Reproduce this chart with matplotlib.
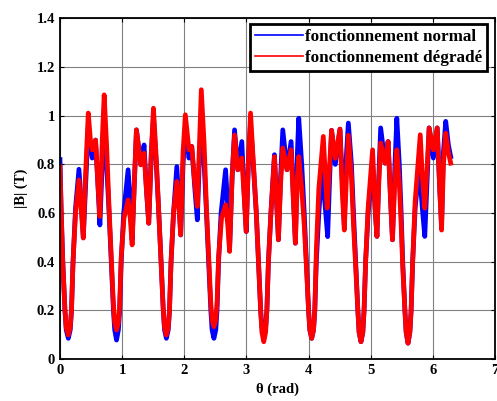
import matplotlib
matplotlib.use("Agg")
import matplotlib.pyplot as plt
from matplotlib.lines import Line2D

# |B| (T) against theta (rad)
theta_normal = [0.0, 0.02, 0.045, 0.08, 0.10, 0.134, 0.165, 0.185, 0.21, 0.25, 0.305, 0.34, 0.375, 0.41, 0.455,
                0.49, 0.519, 0.572, 0.61, 0.642, 0.68, 0.711, 0.75,
                0.79, 0.825, 0.86, 0.88, 0.91, 0.94, 0.96, 0.985, 1.025,
                1.096, 1.13, 1.161, 1.20, 1.23, 1.30, 1.353, 1.39, 1.428, 1.47, 1.504, 1.55,
                1.59, 1.627, 1.662, 1.682, 1.712, 1.742, 1.762, 1.787, 1.827,
                1.88, 1.92, 1.942, 1.98, 2.017, 2.075, 2.12, 2.17, 2.21, 2.24, 2.274, 2.32,
                2.357, 2.392, 2.427, 2.447, 2.477, 2.507, 2.527, 2.552, 2.592,
                2.665, 2.70, 2.729, 2.77, 2.809, 2.862, 2.926, 2.96, 2.997, 3.03, 3.066, 3.11,
                3.159, 3.194, 3.229, 3.249, 3.279, 3.309, 3.329, 3.354, 3.394,
                3.451, 3.49, 3.515, 3.55, 3.585, 3.653, 3.719, 3.75, 3.788, 3.82, 3.842, 3.89,
                3.93, 3.965, 4.00, 4.02, 4.05, 4.08, 4.10, 4.125, 4.165,
                4.22, 4.26, 4.307, 4.34, 4.37, 4.43, 4.505, 4.54, 4.575, 4.60, 4.64, 4.69,
                4.723, 4.758, 4.793, 4.813, 4.843, 4.873, 4.893, 4.918, 4.958,
                5.03, 5.07, 5.10, 5.13, 5.16, 5.23, 5.28, 5.32, 5.35, 5.39, 5.42, 5.46,
                5.49, 5.515, 5.55, 5.57, 5.60, 5.63, 5.65, 5.675, 5.715,
                5.78, 5.83, 5.87, 5.91, 5.94, 6.008, 6.07, 6.11, 6.14, 6.17, 6.207, 6.25, 6.287]
B_normal = [0.82, 0.60, 0.40, 0.20, 0.12, 0.085, 0.12, 0.20, 0.40, 0.62, 0.78, 0.65, 0.50, 0.70, 0.955,
            0.88, 0.826, 0.90, 0.72, 0.551, 0.80, 0.955, 0.80,
            0.60, 0.40, 0.20, 0.12, 0.078, 0.12, 0.20, 0.40, 0.60,
            0.778, 0.65, 0.49, 0.75, 0.942, 0.80, 0.88, 0.70, 0.558, 0.85, 0.995, 0.80,
            0.60, 0.40, 0.20, 0.12, 0.085, 0.12, 0.20, 0.40, 0.60,
            0.791, 0.62, 0.51, 0.80, 0.956, 0.826, 0.874, 0.70, 0.572, 0.80, 0.984, 0.80,
            0.60, 0.40, 0.20, 0.12, 0.085, 0.12, 0.20, 0.40, 0.60,
            0.778, 0.62, 0.455, 0.75, 0.942, 0.778, 0.894, 0.70, 0.524, 0.80, 0.969, 0.80,
            0.60, 0.40, 0.20, 0.13, 0.092, 0.13, 0.20, 0.40, 0.60,
            0.84, 0.62, 0.49, 0.75, 0.942, 0.778, 0.894, 0.70, 0.476, 0.85, 0.99, 0.80,
            0.60, 0.40, 0.20, 0.12, 0.085, 0.12, 0.20, 0.40, 0.60,
            0.79, 0.65, 0.503, 0.75, 0.94, 0.80, 0.945, 0.75, 0.55, 0.80, 0.97, 0.80,
            0.60, 0.40, 0.20, 0.11, 0.071, 0.11, 0.20, 0.40, 0.60,
            0.80, 0.62, 0.504, 0.75, 0.95, 0.805, 0.894, 0.65, 0.49, 0.80, 0.99, 0.80,
            0.60, 0.40, 0.20, 0.11, 0.065, 0.11, 0.20, 0.40, 0.62,
            0.791, 0.62, 0.504, 0.75, 0.95, 0.826, 0.95, 0.70, 0.55, 0.85, 0.977, 0.88, 0.832]

theta_degrade = [0.0, 0.02, 0.045, 0.08, 0.10, 0.134, 0.165, 0.185, 0.21, 0.25, 0.305, 0.34, 0.375, 0.41, 0.455,
                 0.49, 0.519, 0.572, 0.61, 0.642, 0.68, 0.711, 0.75,
                 0.79, 0.825, 0.86, 0.88, 0.91, 0.94, 0.96, 0.985, 1.03,
                 1.096, 1.13, 1.161, 1.20, 1.23, 1.30, 1.353, 1.39, 1.428, 1.47, 1.504, 1.55,
                 1.59, 1.627, 1.662, 1.682, 1.712, 1.742, 1.762, 1.787, 1.827,
                 1.88, 1.92, 1.942, 1.98, 2.017, 2.075, 2.12, 2.17, 2.21, 2.24, 2.274, 2.32,
                 2.357, 2.392, 2.427, 2.447, 2.477, 2.507, 2.527, 2.552, 2.60,
                 2.665, 2.70, 2.729, 2.77, 2.809, 2.862, 2.926, 2.96, 2.997, 3.03, 3.066, 3.11,
                 3.159, 3.194, 3.229, 3.249, 3.279, 3.309, 3.329, 3.354, 3.394,
                 3.451, 3.49, 3.515, 3.55, 3.585, 3.653, 3.719, 3.75, 3.788, 3.82, 3.842, 3.89,
                 3.93, 3.965, 4.00, 4.02, 4.05, 4.08, 4.10, 4.125, 4.165,
                 4.237, 4.27, 4.30, 4.34, 4.37, 4.43, 4.505, 4.54, 4.575, 4.61, 4.64, 4.69,
                 4.723, 4.758, 4.793, 4.813, 4.843, 4.873, 4.893, 4.918, 4.958,
                 5.03, 5.07, 5.10, 5.13, 5.16, 5.23, 5.28, 5.32, 5.35, 5.39, 5.42, 5.46,
                 5.49, 5.515, 5.55, 5.57, 5.60, 5.63, 5.65, 5.675, 5.715,
                 5.797, 5.83, 5.87, 5.91, 5.94, 6.008, 6.07, 6.11, 6.14, 6.17, 6.207, 6.25, 6.287]
B_degrade = [0.79, 0.60, 0.40, 0.20, 0.13, 0.099, 0.13, 0.20, 0.40, 0.60, 0.736, 0.62, 0.497, 0.75, 1.011,
             0.90, 0.86, 0.90, 0.72, 0.586, 0.90, 1.086, 0.88,
             0.62, 0.42, 0.22, 0.15, 0.119, 0.15, 0.22, 0.42, 0.58,
             0.654, 0.58, 0.469, 0.75, 0.942, 0.798, 0.846, 0.70, 0.558, 0.85, 1.031, 0.82,
             0.60, 0.40, 0.20, 0.13, 0.099, 0.13, 0.20, 0.40, 0.60,
             0.73, 0.60, 0.51, 0.85, 1.004, 0.86, 0.874, 0.72, 0.627, 0.85, 1.107, 0.88,
             0.62, 0.42, 0.23, 0.16, 0.133, 0.16, 0.23, 0.42, 0.58,
             0.634, 0.55, 0.442, 0.75, 0.921, 0.778, 0.826, 0.68, 0.524, 0.80, 1.011, 0.82,
             0.60, 0.40, 0.20, 0.11, 0.071, 0.11, 0.20, 0.40, 0.60,
             0.832, 0.62, 0.49, 0.72, 0.867, 0.778, 0.86, 0.68, 0.476, 0.75, 0.832, 0.70,
             0.55, 0.38, 0.20, 0.12, 0.085, 0.12, 0.20, 0.45, 0.70,
             0.915, 0.75, 0.62, 0.80, 0.94, 0.825, 0.945, 0.70, 0.53, 0.75, 0.92, 0.75,
             0.55, 0.38, 0.20, 0.11, 0.071, 0.11, 0.20, 0.40, 0.62,
             0.86, 0.62, 0.504, 0.72, 0.888, 0.805, 0.894, 0.65, 0.49, 0.75, 0.86, 0.72,
             0.55, 0.38, 0.20, 0.11, 0.065, 0.11, 0.20, 0.40, 0.65,
             0.922, 0.75, 0.62, 0.80, 0.95, 0.86, 0.95, 0.70, 0.53, 0.80, 0.928, 0.85, 0.805]

labels = ["fonctionnement normal", "fonctionnement dégradé"]

plt.rcParams['font.family'] = ['Liberation Serif', 'DejaVu Serif']
plt.rcParams['font.weight'] = 'bold'

fig = plt.figure(figsize=(4.97, 4.01), dpi=100)
ax = fig.add_axes([0.1207, 0.1047, 0.8753, 0.8493])

ax.plot(theta_normal, B_normal, color='#0000ff', lw=3.4, solid_joinstyle='round')
ax.plot(theta_degrade, B_degrade, color='#ff0000', lw=3.4, solid_joinstyle='round')

ax.set_xlim(0, 7)
ax.set_ylim(0, 1.4)
ax.set_xticks(range(0, 8))
ax.set_yticks([0, 0.2, 0.4, 0.6, 0.8, 1, 1.2, 1.4])
ax.set_yticklabels(['0', '0.2', '0.4', '0.6', '0.8', '1', '1.2', '1.4'])
ax.grid(True, color='#808080', lw=0.8)
ax.tick_params(direction='in', top=True, right=True, labelsize=10.5, length=3)
for s in ax.spines.values():
    s.set_linewidth(1.3)

ax.set_xlabel('θ (rad)', fontsize=10.5, fontweight='bold', labelpad=4)
ax.set_ylabel('|B| (T)', fontsize=10.5, fontweight='bold', labelpad=6)

handles = [Line2D([], [], color='#0000ff', lw=1.2), Line2D([], [], color='#ff0000', lw=1.2)]
leg = ax.legend(handles, labels, loc='upper right', bbox_to_anchor=(0.982, 0.984), borderaxespad=0,
                fancybox=False, framealpha=1, edgecolor='black', fontsize=12.3,
                handlelength=2.8, handletextpad=0.1, borderpad=0.3, labelspacing=0.3)
leg.get_frame().set_linewidth(2)
for t in leg.get_texts():
    t.set_fontweight('bold')

fig.savefig('out.png', dpi=100)
